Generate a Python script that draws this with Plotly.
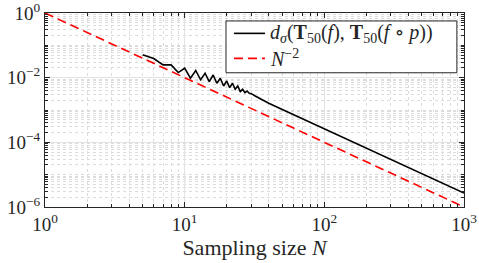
import plotly.graph_objects as go

# Data
N_dist = [5, 6, 7, 8, 9, 10, 11, 12, 13, 14, 15, 16, 17, 18, 19, 20, 21, 22, 23, 24,
          25, 26, 27, 28, 29, 30, 32, 40, 50, 100, 200, 500, 1000]
d_sigma = [0.0514, 0.0392, 0.0248, 0.0248, 0.0144, 0.0196, 0.00958, 0.0167, 0.00861, 0.0137,
           0.00757, 0.0121, 0.0067, 0.00958, 0.00552, 0.0079, 0.00493, 0.0067, 0.00436, 0.00552,
           0.0037, 0.00436, 0.00344, 0.00386, 0.00328, 0.0032, 0.0027, 0.00161, 0.00103,
           2.6e-4, 6.6e-5, 1.07e-5, 2.7e-6]
N_ref = [1, 1000]
ref_vals = [1.0, 1e-6]

series_names = [
    "<i>d</i><sub><i>σ</i></sub>(<b>T</b><sub>50</sub>(<i>f</i>), <b>T</b><sub>50</sub>(<i>f</i> ∘ <i>p</i>))",
    "<i>N</i><sup>−2</sup>",
]

x_tickvals = [1, 10, 100, 1000]
x_ticktext = ["10<sup>0</sup>", "10<sup>1</sup>", "10<sup>2</sup>", "10<sup>3</sup>"]
y_tickvals = [1e-6, 1e-4, 1e-2, 1]
y_ticktext = ["10<sup>−6</sup>", "10<sup>−4</sup>", "10<sup>−2</sup>", "10<sup>0</sup>"]

x_minor = [k * 10 ** d for d in range(0, 3) for k in range(2, 10)]
y_minor = [k * 10.0 ** d for d in range(-6, 0) for k in range(1, 10) if not (k == 1 and d % 2 == 0)]

BLACK = "black"
RED = "#ff0000"
DASH = "9px,5px"

fig = go.Figure()
fig.add_trace(go.Scatter(
    x=N_dist, y=d_sigma, mode="lines", showlegend=False,
    line=dict(color=BLACK, width=1.6), name=series_names[0],
))
fig.add_trace(go.Scatter(
    x=N_ref, y=ref_vals, mode="lines", showlegend=False,
    line=dict(color=RED, width=1.6, dash=DASH), name=series_names[1],
))

font_family = "Liberation Serif, DejaVu Serif, serif"
axis_common = dict(
    type="log", showline=True, linecolor="#262626", linewidth=1, mirror="ticks",
    ticks="inside", ticklen=5, tickcolor="#262626", automargin=False,
    ticklabeloverflow="allow",
    showgrid=True, gridcolor="#e3e3e3", gridwidth=1, zeroline=False,
    tickfont=dict(family=font_family, size=19, color="#262626"),
)

fig.update_layout(
    width=479, height=263,
    margin=dict(l=45, r=15, t=13, b=56),
    paper_bgcolor="white", plot_bgcolor="white",
    font=dict(family=font_family, color="#262626"),
    showlegend=False,
)
fig.update_xaxes(
    **axis_common, range=[0, 3], tickvals=x_tickvals, ticktext=x_ticktext,
    title=dict(text="Sampling size <i>N</i>", font=dict(family=font_family, size=22, color="#262626"), standoff=0),
    minor=dict(tickvals=x_minor, ticks="inside", ticklen=3, tickcolor="#262626",
               showgrid=True, gridcolor="#dcdcdc", griddash="dot", gridwidth=1),
)
fig.update_yaxes(
    **axis_common, range=[-6, 0], tickvals=y_tickvals, ticktext=y_ticktext,
    minor=dict(tickvals=y_minor, ticks="inside", ticklen=3, tickcolor="#262626",
               showgrid=True, gridcolor="#dcdcdc", griddash="dot", gridwidth=1),
)

# legend box drawn in plot-domain coordinates
box = dict(x0=0.432, x1=0.983, y0=0.692, y1=0.959)
rows_y = [0.895, 0.766]
sample_x = [0.451, 0.525]
fig.add_shape(type="rect", xref="x domain", yref="y domain", **box,
              line=dict(color="#262626", width=1), fillcolor="white", layer="above")
for name, yy, col, dash in zip(series_names, rows_y, [BLACK, RED], ["solid", DASH]):
    fig.add_shape(type="line", xref="x domain", yref="y domain",
                  x0=sample_x[0], x1=sample_x[1], y0=yy, y1=yy,
                  line=dict(color=col, width=1.6, dash=dash), layer="above")
    fig.add_annotation(xref="x domain", yref="y domain", x=0.532, y=yy,
                       text=name, showarrow=False, xanchor="left", yanchor="middle",
                       font=dict(family=font_family, size=20, color="#262626"))

fig.write_html("out.html", config={"displayModeBar": False},
               post_script="document.body.style.margin='0';")
